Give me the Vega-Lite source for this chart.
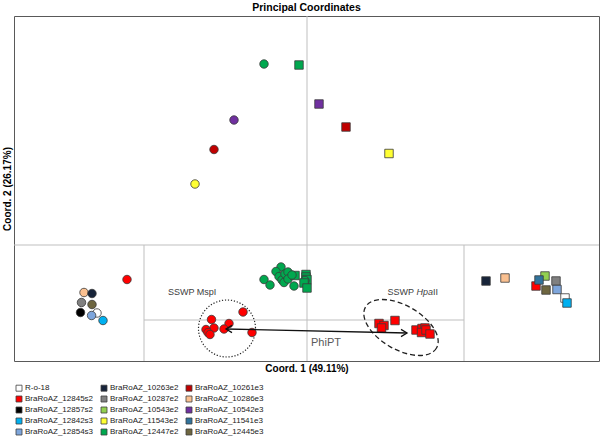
{
  "$schema": "https://vega.github.io/schema/vega-lite/v6.json",
  "autosize": "none",
  "width": 585,
  "height": 345,
  "padding": {"left": 14, "top": 16, "right": 1, "bottom": 78},
  "background": "white",
  "title": {"text": "Principal Coordinates", "font": "Liberation Sans", "fontSize": 10.5, "fontWeight": "bold", "color": "black", "offset": 2, "anchor": "middle"},
  "config": {
    "view": {"stroke": "#595959", "strokeWidth": 1},
    "font": "Liberation Sans"
  },
  "datasets": {
    "lines": [
      {"c1": 0, "c2": -1.16, "c1b": 0, "c2b": 2.29},
      {"c1": -2.93, "c2": 0, "c1b": 2.92, "c2b": 0},
      {"c1": -1.63, "c2": 0, "c1b": -1.63, "c2b": -1.16},
      {"c1": 1.57, "c2": 0, "c1b": 1.57, "c2b": -1.16},
      {"c1": -1.63, "c2": -0.75, "c1b": 1.57, "c2b": -0.75}
    ],
    "points": [
      {"c1": -0.43, "c2": 1.81, "genotype": "BraRoAZ_12447e2", "marker": "circle"},
      {"c1": -0.08, "c2": 1.80, "genotype": "BraRoAZ_12447e2", "marker": "square"},
      {"c1": -0.73, "c2": 1.25, "genotype": "BraRoAZ_10542e3", "marker": "circle"},
      {"c1": -0.93, "c2": 0.955, "genotype": "BraRoAZ_10261e3", "marker": "circle"},
      {"c1": -1.12, "c2": 0.61, "genotype": "BraRoAZ_11543e2", "marker": "circle"},
      {"c1": 0.12, "c2": 1.41, "genotype": "BraRoAZ_10542e3", "marker": "square"},
      {"c1": 0.39, "c2": 1.18, "genotype": "BraRoAZ_10261e3", "marker": "square"},
      {"c1": 0.82, "c2": 0.915, "genotype": "BraRoAZ_11543e2", "marker": "square"},

      {"c1": -1.80, "c2": -0.345, "genotype": "BraRoAZ_12845s2", "marker": "circle"},
      {"c1": -2.10, "c2": -0.68, "genotype": "R-o-18", "marker": "circle"},
      {"c1": -2.23, "c2": -0.475, "genotype": "BraRoAZ_10286e3", "marker": "circle"},
      {"c1": -2.15, "c2": -0.485, "genotype": "BraRoAZ_10263e2", "marker": "circle"},
      {"c1": -2.255, "c2": -0.575, "genotype": "BraRoAZ_10287e2", "marker": "circle"},
      {"c1": -2.15, "c2": -0.595, "genotype": "BraRoAZ_12445e3", "marker": "circle"},
      {"c1": -2.265, "c2": -0.675, "genotype": "BraRoAZ_12857s2", "marker": "circle"},
      {"c1": -2.154, "c2": -0.705, "genotype": "BraRoAZ_12854s3", "marker": "circle"},
      {"c1": -2.04, "c2": -0.755, "genotype": "BraRoAZ_12842s3", "marker": "circle"},

      {"c1": 1.79, "c2": -0.36, "genotype": "BraRoAZ_10263e2", "marker": "square"},
      {"c1": 1.98, "c2": -0.33, "genotype": "BraRoAZ_10286e3", "marker": "square"},
      {"c1": 2.38, "c2": -0.31, "genotype": "BraRoAZ_10543e2", "marker": "square"},
      {"c1": 2.29, "c2": -0.41, "genotype": "BraRoAZ_12845s2", "marker": "square"},
      {"c1": 2.32, "c2": -0.35, "genotype": "BraRoAZ_11541e3", "marker": "square"},
      {"c1": 2.49, "c2": -0.36, "genotype": "BraRoAZ_10287e2", "marker": "square"},
      {"c1": 2.39, "c2": -0.45, "genotype": "BraRoAZ_12445e3", "marker": "square"},
      {"c1": 2.50, "c2": -0.445, "genotype": "BraRoAZ_12854s3", "marker": "square"},
      {"c1": 2.58, "c2": -0.53, "genotype": "R-o-18", "marker": "square"},
      {"c1": 2.60, "c2": -0.58, "genotype": "BraRoAZ_12842s3", "marker": "square"},

      {"c1": -0.43, "c2": -0.345, "genotype": "BraRoAZ_12447e2", "marker": "circle"},
      {"c1": -0.37, "c2": -0.40, "genotype": "BraRoAZ_12447e2", "marker": "circle"},
      {"c1": -0.26, "c2": -0.22, "genotype": "BraRoAZ_12447e2", "marker": "circle"},
      {"c1": -0.31, "c2": -0.265, "genotype": "BraRoAZ_12447e2", "marker": "circle"},
      {"c1": -0.28, "c2": -0.315, "genotype": "BraRoAZ_12447e2", "marker": "circle"},
      {"c1": -0.25, "c2": -0.35, "genotype": "BraRoAZ_12447e2", "marker": "circle"},
      {"c1": -0.23, "c2": -0.375, "genotype": "BraRoAZ_12447e2", "marker": "circle"},
      {"c1": -0.22, "c2": -0.29, "genotype": "BraRoAZ_12447e2", "marker": "circle"},
      {"c1": -0.19, "c2": -0.27, "genotype": "BraRoAZ_12447e2", "marker": "circle"},
      {"c1": -0.19, "c2": -0.34, "genotype": "BraRoAZ_12447e2", "marker": "circle"},
      {"c1": -0.12, "c2": -0.305, "genotype": "BraRoAZ_12447e2", "marker": "square"},
      {"c1": -0.15, "c2": -0.30, "genotype": "BraRoAZ_12447e2", "marker": "circle"},
      {"c1": -0.13, "c2": -0.41, "genotype": "BraRoAZ_12447e2", "marker": "circle"},
      {"c1": -0.01, "c2": -0.295, "genotype": "BraRoAZ_12447e2", "marker": "square"},
      {"c1": -0.01, "c2": -0.32, "genotype": "BraRoAZ_12447e2", "marker": "square"},
      {"c1": 0.00, "c2": -0.345, "genotype": "BraRoAZ_12447e2", "marker": "square"},
      {"c1": -0.02, "c2": -0.355, "genotype": "BraRoAZ_12447e2", "marker": "circle"},
      {"c1": -0.03, "c2": -0.38, "genotype": "BraRoAZ_12447e2", "marker": "square"},
      {"c1": 0.00, "c2": -0.43, "genotype": "BraRoAZ_12447e2", "marker": "square"},

      {"c1": -0.64, "c2": -0.67, "genotype": "BraRoAZ_12845s2", "marker": "circle"},
      {"c1": -0.955, "c2": -0.745, "genotype": "BraRoAZ_12845s2", "marker": "circle"},
      {"c1": -0.78, "c2": -0.785, "genotype": "BraRoAZ_12845s2", "marker": "circle"},
      {"c1": -0.83, "c2": -0.84, "genotype": "BraRoAZ_12845s2", "marker": "circle"},
      {"c1": -0.93, "c2": -0.83, "genotype": "BraRoAZ_12845s2", "marker": "circle"},
      {"c1": -1.01, "c2": -0.845, "genotype": "BraRoAZ_12845s2", "marker": "circle"},
      {"c1": -0.99, "c2": -0.875, "genotype": "BraRoAZ_12845s2", "marker": "circle"},
      {"c1": -0.97, "c2": -0.895, "genotype": "BraRoAZ_12845s2", "marker": "circle"},
      {"c1": -0.55, "c2": -0.875, "genotype": "BraRoAZ_12845s2", "marker": "circle"},

      {"c1": 0.72, "c2": -0.785, "genotype": "BraRoAZ_12845s2", "marker": "square"},
      {"c1": 0.77, "c2": -0.805, "genotype": "BraRoAZ_12845s2", "marker": "square"},
      {"c1": 0.745, "c2": -0.83, "genotype": "BraRoAZ_12845s2", "marker": "square"},
      {"c1": 0.88, "c2": -0.755, "genotype": "BraRoAZ_12845s2", "marker": "square"},
      {"c1": 1.09, "c2": -0.85, "genotype": "BraRoAZ_12845s2", "marker": "square"},
      {"c1": 1.15, "c2": -0.835, "genotype": "BraRoAZ_12845s2", "marker": "square"},
      {"c1": 1.18, "c2": -0.83, "genotype": "BraRoAZ_12845s2", "marker": "square"},
      {"c1": 1.145, "c2": -0.875, "genotype": "BraRoAZ_12845s2", "marker": "square"},
      {"c1": 1.19, "c2": -0.85, "genotype": "BraRoAZ_12845s2", "marker": "square"},
      {"c1": 1.23, "c2": -0.89, "genotype": "BraRoAZ_12845s2", "marker": "square"}
    ],
    "dotted": [{"c1": -0.80, "c2": -0.835}],
    "dashed": [{"c1": 0.94, "c2": -0.825}],
    "arrow": [{"c1": -0.81, "c2": -0.84, "c1b": 1.00, "c2b": -0.88}],
    "headLeft": [{"c1": -0.81, "c2": -0.84}],
    "headRight": [{"c1": 1.00, "c2": -0.88}],
    "labels": [
      {"c1": -1.39, "c2": -0.465, "label": "SSWP MspI"},
      {"c1": 0.806, "c2": -0.465, "label": "SSWP"},
      {"c1": 1.261, "c2": -0.465, "label": "II"}
    ],
    "italicLabels": [
      {"c1": 1.096, "c2": -0.465, "label": "Hpa"}
    ],
    "phi": [
      {"c1": 0.04, "c2": -0.975, "label": "PhiPT"}
    ]
  },
  "encoding": {
    "x": {"field": "c1", "type": "quantitative", "scale": {"domain": [-2.93, 2.92], "nice": false, "zero": false},
          "axis": {"title": "Coord. 1 (49.11%)", "labels": false, "ticks": false, "domain": false, "grid": false, "titleFont": "Liberation Sans", "titleFontSize": 10, "titleFontWeight": "bold", "titleColor": "black", "titlePadding": 2}},
    "y": {"field": "c2", "type": "quantitative", "scale": {"domain": [-1.16, 2.29], "nice": false, "zero": false},
          "axis": {"title": "Coord. 2 (26.17%)", "labels": false, "ticks": false, "domain": false, "grid": false, "titleFont": "Liberation Sans", "titleFontSize": 10, "titleFontWeight": "bold", "titleColor": "black", "titlePadding": 2}}
  },
  "layer": [
    {
      "data": {"name": "lines"},
      "mark": {"type": "rule", "color": "#BFBFBF", "strokeWidth": 1},
      "encoding": {"x2": {"field": "c1b"}, "y2": {"field": "c2b"}}
    },
    {
      "data": {"name": "dotted"},
      "mark": {"type": "point", "shape": "circle", "size": 3249, "filled": false, "stroke": "#222222", "strokeWidth": 1.2, "strokeDash": [1.2, 1.8], "opacity": 1}
    },
    {
      "data": {"name": "dashed"},
      "mark": {"type": "point", "shape": "M 1 0 C 1 0.2965 0.5523 0.537 0 0.537 C -0.5523 0.537 -1 0.2965 -1 0 C -1 -0.2965 -0.5523 -0.537 0 -0.537 C 0.5523 -0.537 1 -0.2965 1 0 Z", "angle": 30, "size": 6724, "filled": false, "stroke": "#222222", "strokeWidth": 1.3, "strokeDash": [5, 3], "opacity": 1}
    },
    {
      "data": {"name": "points"},
      "mark": {"type": "point", "filled": true, "size": 72, "opacity": 1, "stroke": "#3A3A3A", "strokeWidth": 0.8},
      "encoding": {
        "color": {"field": "genotype", "type": "nominal",
          "scale": {
            "domain": ["R-o-18", "BraRoAZ_12845s2", "BraRoAZ_12857s2", "BraRoAZ_12842s3", "BraRoAZ_12854s3",
                       "BraRoAZ_10263e2", "BraRoAZ_10287e2", "BraRoAZ_10543e2", "BraRoAZ_11543e2", "BraRoAZ_12447e2",
                       "BraRoAZ_10261e3", "BraRoAZ_10286e3", "BraRoAZ_10542e3", "BraRoAZ_11541e3", "BraRoAZ_12445e3"],
            "range": ["#FFFFFF", "#FF0000", "#000000", "#00B0F0", "#7EA6DC",
                      "#17243A", "#808080", "#92D050", "#FFFF33", "#00A84F",
                      "#C00000", "#FAC090", "#7030A0", "#31739C", "#6E6640"]
          },
          "legend": {"orient": "none", "legendX": 1, "legendY": 368, "columns": 3, "title": null, "symbolType": "square", "symbolSize": 36, "symbolStrokeColor": "#404040", "symbolStrokeWidth": 0.8, "labelFont": "Liberation Sans", "labelFontSize": 8, "labelColor": "#222222", "labelOffset": 2, "rowPadding": 1, "columnPadding": 5, "padding": 0, "symbolOpacity": 1}
        },
        "shape": {"field": "marker", "type": "nominal", "scale": {"domain": ["circle", "square"], "range": ["circle", "square"]}, "legend": null}
      }
    },
    {
      "data": {"name": "arrow"},
      "mark": {"type": "rule", "color": "#111111", "strokeWidth": 1.3},
      "encoding": {"x2": {"field": "c1b"}, "y2": {"field": "c2b"}}
    },
    {
      "data": {"name": "headLeft"},
      "mark": {"type": "point", "shape": "M 1 -0.6 L 0 0 L 1 0.6", "size": 144, "filled": false, "stroke": "#111111", "strokeWidth": 1.3, "opacity": 1}
    },
    {
      "data": {"name": "headRight"},
      "mark": {"type": "point", "shape": "M -1 -0.6 L 0 0 L -1 0.6", "size": 144, "filled": false, "stroke": "#111111", "strokeWidth": 1.3, "opacity": 1}
    },
    {
      "data": {"name": "labels"},
      "mark": {"type": "text", "align": "left", "baseline": "middle", "font": "Liberation Sans", "fontSize": 9, "color": "#404040"},
      "encoding": {"text": {"field": "label"}}
    },
    {
      "data": {"name": "italicLabels"},
      "mark": {"type": "text", "align": "left", "baseline": "middle", "font": "Liberation Sans", "fontSize": 9, "fontStyle": "italic", "color": "#404040"},
      "encoding": {"text": {"field": "label"}}
    },
    {
      "data": {"name": "phi"},
      "mark": {"type": "text", "align": "left", "baseline": "middle", "font": "Liberation Sans", "fontSize": 11, "color": "#595959"},
      "encoding": {"text": {"field": "label"}}
    }
  ]
}
